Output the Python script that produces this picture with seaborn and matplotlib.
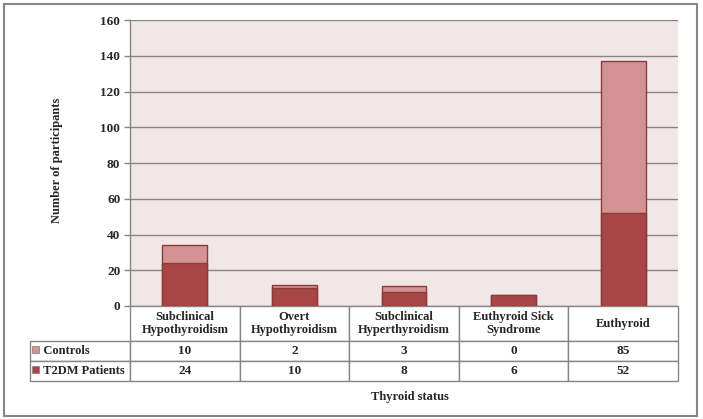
import matplotlib
matplotlib.use("Agg")
import matplotlib.pyplot as plt
from matplotlib.patches import Rectangle
from matplotlib.table import Table
import seaborn as sns

categories = ["Subclinical\nHypothyroidism", "Overt\nHypothyroidism",
              "Subclinical\nHyperthyroidism", "Euthyroid Sick\nSyndrome", "Euthyroid"]
controls = [10, 2, 3, 0, 85]
t2dm = [24, 10, 8, 6, 52]
series_names = ["Controls", "T2DM Patients"]
yticks = [0, 20, 40, 60, 80, 100, 120, 140, 160]

totals = [a + b for a, b in zip(controls, t2dm)]

sns.set_theme(style="white")
plt.rcParams['font.family'] = ['Liberation Serif', 'DejaVu Serif']
plt.rcParams['font.weight'] = 'bold'

light = "#D39394"
dark = "#A84545"
edge = "#8C3A3A"
bg = "#F2E7E7"
grey = "#868686"
fs = 9
tfs = 9.5

fig = plt.figure(figsize=(7.03, 4.19), dpi=100)
W, H = 703, 419
ax = fig.add_axes([130 / W, 1 - 306 / H, 548 / W, 286 / H])
ax.set_facecolor(bg)

sns.barplot(x=categories, y=totals, order=categories, color=light, saturation=1,
            edgecolor=edge, linewidth=1, width=0.41, ax=ax)
sns.barplot(x=categories, y=t2dm, order=categories, color=dark, saturation=1,
            edgecolor=edge, linewidth=1, width=0.41, ax=ax)

ax.set_xlim(-0.5, 4.5)
ax.set_ylim(0, 160)
ax.set_yticks(yticks)
ax.set_yticklabels([str(v) for v in yticks], fontsize=tfs, fontweight='bold')
ax.set_xticks([])
ax.set_xlabel("")
ax.set_ylabel("")
ax.set_axisbelow(True)
ax.yaxis.grid(True, color=grey, linewidth=1)
ax.tick_params(axis='y', direction='out', length=4, color=grey, width=1, pad=3, left=True)
for s in ["top", "right", "bottom"]:
    ax.spines[s].set_visible(False)
ax.spines["left"].set_color(grey)
ax.spines["left"].set_linewidth(1)

# data table
axw, axh = 548.0, 286.0
first_w = 100 / axw
col_w = 0.2
hdr_h = 35 / axh
row_h = 20 / axh
tbl = Table(ax, bbox=[-first_w, -(hdr_h + 2 * row_h), first_w + 5 * col_w, hdr_h + 2 * row_h])
c0 = tbl.add_cell(0, 0, first_w, hdr_h, text="", loc='center')
c0.visible_edges = ''
for j, cat in enumerate(categories):
    tbl.add_cell(0, j + 1, col_w, hdr_h, text=cat, loc='center')
rows = [controls, t2dm]
for i, (name, vals) in enumerate(zip(series_names, rows)):
    c = tbl.add_cell(i + 1, 0, first_w, row_h, text="   " + name, loc='left')
    c.PAD = 0.036
    for j, v in enumerate(vals):
        tbl.add_cell(i + 1, j + 1, col_w, row_h, text=str(v), loc='center')
tbl.auto_set_font_size(False)
tbl.set_fontsize(fs)
for (r, cidx), cell in tbl.get_celld().items():
    cell.set_edgecolor(grey)
    cell.set_linewidth(1)
    cell.set_facecolor('white')
    cell.get_text().set_fontweight('bold')
    cell.get_text().set_fontsize(tfs if (r > 0 and cidx > 0) else fs)
tbl.set_clip_on(False)
ax.add_table(tbl)

# legend keys in table
for i, col in enumerate([light, dark]):
    yc = 349 + 20 * i
    fig.patches.append(Rectangle((32 / W, 1 - (yc + 3.5) / H), 7 / W, 7 / H,
                                 transform=fig.transFigure, facecolor=col,
                                 edgecolor=grey, linewidth=0.6))

fig.text(57 / W, 1 - 160 / H, "Number of participants", rotation=90,
         ha='center', va='center', fontsize=fs, fontweight='bold')
fig.text(410 / W, 1 - 397 / H, "Thyroid status", ha='center', va='center',
         fontsize=fs, fontweight='bold')

fig.patches.append(Rectangle((4 / W, 1 - 416 / H), 693 / W, 412 / H,
                             transform=fig.transFigure, fill=False,
                             edgecolor=grey, linewidth=1.5))

fig.savefig("out.png", dpi=100)
